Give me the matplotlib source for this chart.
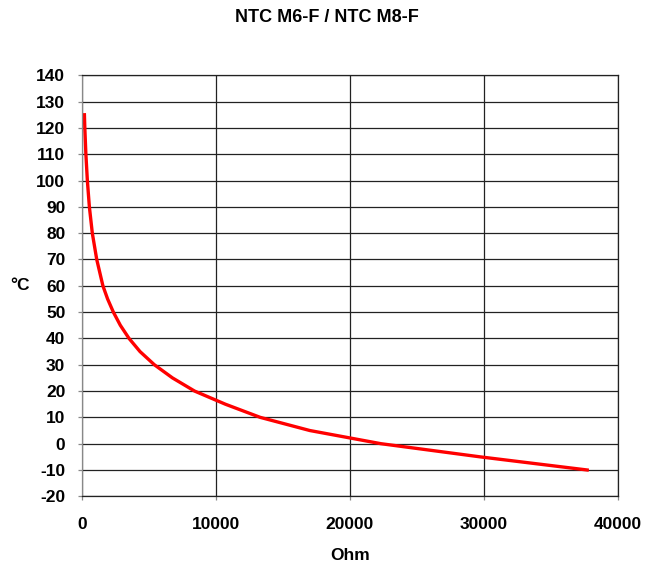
import matplotlib.pyplot as plt

plt.rcParams['font.family'] = ['Liberation Sans', 'DejaVu Sans']
plt.rcParams['axes.unicode_minus'] = False

# NTC characteristic
temp_c = [-10, -5, 0, 5, 10, 15, 20, 25, 30, 35, 40, 45, 50, 55, 60,
          70, 80, 90, 100, 110, 120, 125]
ohm = [37700, 29700, 22300, 17000, 13300, 10700, 8400, 6750, 5400, 4330,
       3510, 2860, 2340, 1910, 1560, 1100, 770, 550, 400, 290, 210, 180]

x_ticks = [0, 10000, 20000, 30000, 40000]
y_ticks = list(range(-20, 141, 10))

fig = plt.figure(figsize=(6.59, 5.72), dpi=100)
ax = fig.add_axes([82 / 659, 1 - 496.3 / 572, (618 - 82) / 659, (496.3 - 75.3) / 572])

ax.plot(ohm, temp_c, color='#ff0000', linewidth=2.4)

ax.set_xlim(0, 40000)
ax.set_ylim(-20, 140)
ax.set_xticks(x_ticks)
ax.set_yticks(y_ticks)
ax.grid(True, color='#222222', linewidth=0.9)
ax.set_axisbelow(True)

for s in ax.spines.values():
    s.set_color('#222222')
    s.set_linewidth(0.9)
ax.spines['left'].set_color('#888888')

ax.tick_params(axis='both', labelsize=12.5, length=3, width=0.9, color='#888888')
ax.tick_params(axis='y', pad=9)
ax.tick_params(axis='x', pad=12)
for lbl in ax.get_xticklabels() + ax.get_yticklabels():
    lbl.set_fontweight('bold')

fig.text(350 / 659, 1 - 556 / 572, 'Ohm', fontsize=12.5, fontweight='bold',
         ha='center', va='center')
fig.text(20 / 659, 1 - 285 / 572, '°C', fontsize=12.5, fontweight='bold',
         ha='center', va='center')
fig.text(327 / 659, 1 - 17.5 / 572, 'NTC M6-F / NTC M8-F', fontsize=13,
         fontweight='bold', ha='center', va='center')

fig.savefig('out.png', dpi=100)
